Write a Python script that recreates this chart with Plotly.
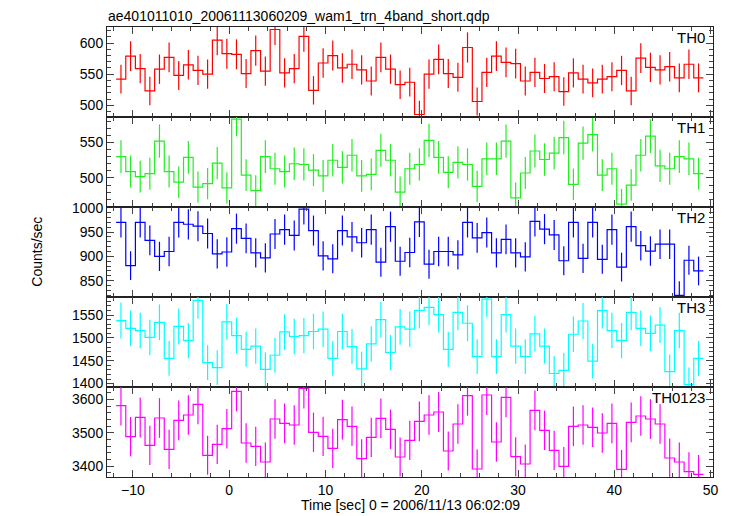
import numpy as np
import plotly.graph_objects as go
from plotly.subplots import make_subplots

# Bin centres (s) relative to 2006/11/13 06:02:09, 1 s bins
time_sec = [-11.25, -10.25, -9.25, -8.25, -7.25, -6.25, -5.25, -4.25, -3.25, -2.25,
            -1.25, -0.25, 0.75, 1.75, 2.75, 3.75, 4.75, 5.75, 6.75, 7.75,
            8.75, 9.75, 10.75, 11.75, 12.75, 13.75, 14.75, 15.75, 16.75, 17.75,
            18.75, 19.75, 20.75, 21.75, 22.75, 23.75, 24.75, 25.75, 26.75, 27.75,
            28.75, 29.75, 30.75, 31.75, 32.75, 33.75, 34.75, 35.75, 36.75, 37.75,
            38.75, 39.75, 40.75, 41.75, 42.75, 43.75, 44.75, 45.75, 46.75, 47.75,
            48.75]

th0 = [542, 579, 559, 523, 558, 577, 548, 565, 556, 550,
       605, 583, 582, 551, 588, 555, 622, 552, 559, 611,
       524, 568, 580, 560, 566, 557, 539, 577, 558, 533,
       537, 485, 550, 574, 551, 545, 593, 506, 553, 579,
       569, 567, 539, 553, 543, 546, 522, 552, 542, 536,
       542, 546, 556, 523, 576, 561, 557, 562, 544, 566,
       544]

th1 = [530, 509, 502, 506, 552, 509, 494, 529, 487, 492,
       521, 486, 583, 504, 482, 530, 513, 509, 520, 519,
       511, 503, 525, 515, 532, 503, 505, 539, 525, 480,
       513, 519, 553, 529, 508, 522, 519, 488, 527, 527,
       552, 472, 507, 538, 526, 535, 557, 491, 549, 561,
       504, 513, 463, 490, 532, 559, 517, 513, 530, 527,
       506]

th2 = [970, 881, 970, 933, 900, 910, 970, 966, 962, 947,
       905, 909, 957, 937, 907, 897, 946, 955, 943, 997,
       953, 901, 895, 953, 940, 928, 955, 888, 961, 890,
       908, 971, 884, 910, 910, 903, 970, 938, 949, 907,
       935, 907, 899, 972, 956, 944, 891, 970, 896, 970,
       894, 955, 878, 961, 922, 911, 925, 925, 820, 892,
       870]

th3 = [1538, 1521, 1516, 1501, 1534, 1455, 1525, 1494, 1582, 1446,
       1435, 1535, 1505, 1475, 1482, 1431, 1462, 1513, 1503, 1505,
       1514, 1519, 1455, 1514, 1481, 1432, 1487, 1540, 1468, 1524,
       1519, 1560, 1567, 1551, 1475, 1556, 1532, 1459, 1585, 1459,
       1551, 1482, 1459, 1509, 1482, 1422, 1429, 1508, 1537, 1449,
       1560, 1516, 1494, 1556, 1521, 1510, 1528, 1426, 1516, 1398,
       1455]

th0123 = [3581, 3488, 3546, 3462, 3544, 3450, 3537, 3553, 3585, 3432,
          3465, 3512, 3624, 3469, 3459, 3412, 3541, 3528, 3523, 3633,
          3501, 3489, 3453, 3539, 3519, 3422, 3486, 3543, 3510, 3427,
          3477, 3534, 3553, 3562, 3445, 3526, 3611, 3391, 3613, 3472,
          3606, 3428, 3406, 3567, 3507, 3447, 3399, 3519, 3523, 3516,
          3499, 3528, 3390, 3531, 3550, 3541, 3526, 3424, 3412, 3383,
          3375]

panel_names = ["TH0", "TH1", "TH2", "TH3", "TH0123"]
series = [th0, th1, th2, th3, th0123]

# style per panel: colour, y range, major dtick, minor dtick
styles = [
    ("#ff0000", [481, 626], 50, 10),
    ("#22ee22", [459, 586], 50, 10),
    ("#0000ff", [816.5, 1001.5], 50, 10),
    ("#00ffff", [1392.5, 1589.5], 50, 10),
    ("#ff00ff", [3367, 3637], 100, 20),
]

FONT = "Liberation Sans, Arial, Helvetica, sans-serif"

fig = make_subplots(rows=5, cols=1, shared_xaxes=True, vertical_spacing=0)

t = np.array(time_sec, dtype=float)
edges = np.append(t - 0.5, t[-1] + 0.5)

for i, (name, vals, st) in enumerate(zip(panel_names, series, styles)):
    row = i + 1
    color, yr, dt, mdt = st
    v = np.array(vals, dtype=float)
    fig.add_trace(go.Scatter(
        x=edges, y=np.append(v, v[-1]), mode="lines",
        line=dict(shape="hv", color=color, width=1.2),
        hoverinfo="skip", showlegend=False), row=row, col=1)
    fig.add_trace(go.Scatter(
        x=t, y=v, mode="markers",
        marker=dict(size=1, color=color, opacity=0),
        error_y=dict(type="data", array=np.sqrt(v), width=0,
                     thickness=1.2, color=color),
        showlegend=False), row=row, col=1)
    fig.update_yaxes(
        range=yr, dtick=dt, tick0=0, ticks="inside", ticklen=7,
        tickcolor="#444", tickwidth=1,
        minor=dict(dtick=mdt, ticks="inside", ticklen=4, tickcolor="#444"),
        showline=True, linecolor="#222", linewidth=1, mirror="allticks",
        showgrid=False, zeroline=False,
        tickfont=dict(family=FONT, size=14, color="black"),
        row=row, col=1)
    fig.update_xaxes(
        range=[-12.7, 50.25], dtick=10, tick0=0, ticks="inside", ticklen=7,
        tickcolor="#444", tickwidth=1,
        minor=dict(dtick=2, ticks="inside", ticklen=4, tickcolor="#444"),
        showline=True, linecolor="#222", linewidth=1, mirror="allticks",
        showgrid=False, zeroline=False,
        showticklabels=(row == 5),
        tickfont=dict(family=FONT, size=14, color="black"),
        row=row, col=1)
    xr = "x domain" if row == 1 else f"x{row} domain"
    yrf = "y domain" if row == 1 else f"y{row} domain"
    fig.add_annotation(text=name, xref=xr, yref=yrf, x=0.99, y=0.995,
                       xanchor="right", yanchor="top", showarrow=False,
                       font=dict(family=FONT, size=15, color="black"))

fig.add_annotation(text="ae401011010_20061113060209_wam1_trn_4band_short.qdp",
                   xref="paper", yref="paper", x=0, y=1.0,
                   xanchor="left", yanchor="bottom", yshift=2,
                   showarrow=False, borderpad=0,
                   font=dict(family=FONT, size=14, color="black"))
fig.add_annotation(text="Counts/sec", xref="paper", yref="paper",
                   x=-0.116, y=0.5, textangle=-90, xanchor="center",
                   yanchor="middle", showarrow=False,
                   font=dict(family=FONT, size=14, color="black"))
fig.add_annotation(text="Time [sec] 0 = 2006/11/13 06:02:09",
                   xref="paper", yref="paper", x=0.5, y=-0.062,
                   xanchor="center", yanchor="middle", showarrow=False,
                   font=dict(family=FONT, size=14, color="black"))

# the page body adds an 8 px margin, so the figure is sized to fit the window
fig.update_layout(
    width=722, height=508,
    margin=dict(l=99, r=11, t=19, b=39),
    paper_bgcolor="white", plot_bgcolor="white",
    showlegend=False,
    font=dict(family=FONT, size=14, color="black"),
)

fig.write_html("out.html")
